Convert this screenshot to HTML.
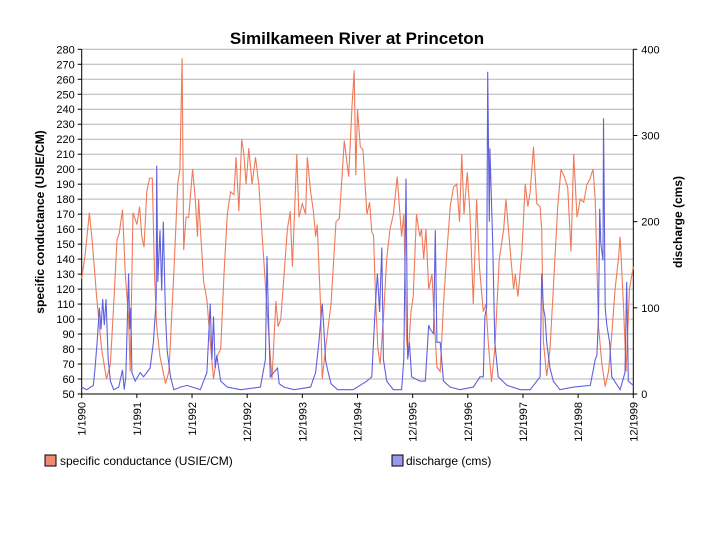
<!DOCTYPE html>
<html><head><meta charset="utf-8"><style>
body{margin:0;background:#fff;}
svg{display:block;font-family:"Liberation Sans",Arial,sans-serif;}
</style></head><body>
<svg id="chart" width="720" height="540">
<text x="357" y="44" text-anchor="middle" font-size="17" font-weight="bold">Similkameen River at Princeton</text>
<text transform="translate(44,222) rotate(-90)" text-anchor="middle" font-size="12" font-weight="bold">specific conductance (USIE/CM)</text>
<text transform="translate(682,222) rotate(-90)" text-anchor="middle" font-size="12" font-weight="bold">discharge (cms)</text>
<g id="grid"></g><g id="axes"></g><g id="series"></g>
<rect x="45" y="455" width="11" height="11" fill="#f08a70" stroke="#000"/>
<text x="60" y="465" font-size="12">specific conductance (USIE/CM)</text>
<rect x="392" y="455" width="11" height="11" fill="#9999ee" stroke="#000"/>
<text x="406" y="465" font-size="12">discharge (cms)</text>
</svg>
<script>
const xTickLabels=["1/1990","1/1991","1/1992","12/1992","12/1993","12/1994","12/1995","12/1996","12/1997","12/1998","12/1999"];
const leftTicks=[50,60,70,80,90,100,110,120,130,140,150,160,170,180,190,200,210,220,230,240,250,260,270,280];
const rightTicks=[0,100,200,300,400];
const condT=[0,.06,.14,.19,.27,.36,.45,.52,.58,.64,.68,.74,.79,.85,.88,.93,1.00,1.05,1.09,1.13,1.18,1.23,1.28,1.32,1.36,1.42,1.52,1.58,1.67,1.74,1.78,1.82,1.85,1.89,1.94,2.01,2.06,2.10,2.12,2.21,2.27,2.33,2.39,2.45,2.52,2.58,2.64,2.70,2.76,2.80,2.85,2.90,2.94,2.98,3.03,3.09,3.15,3.21,3.30,3.39,3.45,3.52,3.56,3.61,3.67,3.73,3.78,3.82,3.90,3.94,4.00,4.06,4.09,4.15,4.20,4.24,4.27,4.33,4.36,4.42,4.52,4.61,4.67,4.76,4.84,4.90,4.94,4.97,5.00,5.05,5.10,5.17,5.22,5.26,5.29,5.33,5.37,5.41,5.47,5.53,5.59,5.65,5.72,5.80,5.84,5.89,5.92,5.97,6.01,6.07,6.13,6.16,6.20,6.24,6.29,6.35,6.39,6.44,6.50,6.56,6.62,6.68,6.74,6.80,6.85,6.89,6.93,6.99,7.04,7.10,7.16,7.21,7.28,7.33,7.37,7.43,7.49,7.57,7.65,7.69,7.77,7.83,7.86,7.91,7.98,8.04,8.09,8.13,8.19,8.25,8.31,8.34,8.37,8.43,8.49,8.55,8.63,8.69,8.75,8.81,8.87,8.92,8.98,9.04,9.10,9.16,9.21,9.27,9.31,9.37,9.43,9.49,9.55,9.61,9.67,9.73,9.76,9.82,9.87,9.93,10.0];
const condV=[127,142,171,152,115,80,60,70,110,153,157,173,130,100,65,171,163,175,155,148,185,194,194,130,95,75,57,65,130,190,200,274,146,168,168,200,180,155,180,125,113,85,60,75,80,130,170,185,183,208,172,220,210,190,214,190,208,190,140,90,60,112,95,100,130,160,172,135,210,168,177,170,208,185,172,155,163,110,60,80,110,165,167,219,195,242,266,196,240,215,213,170,178,158,156,112,80,70,100,140,160,170,195,155,170,86,75,105,115,170,155,160,140,160,120,130,100,68,65,110,145,175,188,190,165,210,170,198,170,110,180,135,105,110,85,58,80,140,160,180,145,120,130,115,145,190,175,185,215,177,175,160,85,62,80,120,175,200,195,188,145,210,168,180,178,190,193,200,180,95,70,55,65,90,120,140,155,110,65,120,135];
const disT=[0,.09,.21,.24,.28,.32,.35,.38,.41,.44,.48,.52,.58,.67,.74,.77,.80,.85,.87,.89,.91,.97,1.06,1.12,1.18,1.24,1.30,1.35,1.36,1.38,1.42,1.45,1.48,1.52,1.55,1.61,1.67,1.79,1.91,2.15,2.21,2.27,2.30,2.33,2.36,2.39,2.42,2.45,2.52,2.64,2.88,3.24,3.33,3.36,3.39,3.42,3.48,3.55,3.58,3.67,3.85,4.15,4.24,4.30,4.36,4.39,4.42,4.45,4.52,4.64,4.92,5.17,5.26,5.32,5.36,5.40,5.44,5.47,5.53,5.65,5.80,5.84,5.88,5.91,5.94,5.98,6.13,6.23,6.29,6.32,6.38,6.41,6.44,6.50,6.56,6.68,6.86,7.10,7.22,7.28,7.31,7.34,7.36,7.39,7.40,7.45,7.49,7.55,7.71,7.95,8.13,8.31,8.34,8.37,8.40,8.43,8.49,8.55,8.67,8.92,9.22,9.31,9.34,9.37,9.39,9.41,9.45,9.46,9.49,9.52,9.57,9.61,9.76,9.85,9.88,9.91,10.0];
const disV=[8,5,10,28,60,100,75,110,80,110,40,15,5,8,28,5,20,140,75,100,25,15,25,20,25,30,60,110,265,130,190,120,200,90,50,20,5,8,10,5,15,25,65,105,40,90,30,45,15,8,5,8,40,160,80,20,25,30,12,8,5,8,25,60,105,75,40,30,12,5,5,15,20,100,140,95,170,40,15,5,5,40,250,40,60,20,15,15,80,75,70,190,60,60,15,8,5,8,20,20,90,100,374,200,285,180,60,20,10,5,5,20,140,100,90,60,30,15,5,8,10,40,45,90,215,175,155,320,100,80,60,20,5,25,130,15,10];
const X0=81.7,X1=633.3,Y0=394,Y1=49.3;
const xs=t=>X0+(X1-X0)*t/10;
const yL=v=>Y0-(v-50)/230*(Y0-Y1);
const yR=v=>Y0-v/400*(Y0-Y1);
const NS="http://www.w3.org/2000/svg";
function mk(tag,attrs,parent,txt){const e=document.createElementNS(NS,tag);for(const k in attrs)e.setAttribute(k,attrs[k]);if(txt!==undefined)e.textContent=txt;parent.appendChild(e);return e;}
const grid=document.getElementById('grid'),axes=document.getElementById('axes'),ser=document.getElementById('series');
leftTicks.forEach(v=>{
  const y=yL(v);
  if(v>50){const g=mk('line',{x1:X0,x2:X1,y1:y,y2:y,stroke:'#b4b4b4','stroke-width':1},grid);
  
  }
  mk('line',{x1:X0-4,x2:X0,y1:y,y2:y,stroke:'#000'},axes);
  const t=mk('text',{x:X0-7,y:y+4,'text-anchor':'end','font-size':11},axes,v);
  
  
});
rightTicks.forEach(v=>{
  const y=yR(v);
  mk('line',{x1:X1,x2:X1+4,y1:y,y2:y,stroke:'#000'},axes);
  const t=mk('text',{x:X1+8,y:y+4,'font-size':11},axes,v);
  
  
});
xTickLabels.forEach((l,i)=>{
  const x=xs(i);
  mk('line',{x1:x,x2:x,y1:Y0,y2:Y0+4,stroke:'#000'},axes);
  const t=mk('text',{transform:`translate(${x+4},${Y0+8}) rotate(-90)`,'text-anchor':'end','font-size':11},axes,l);
  
  
});
const ax=mk('path',{d:`M${X0},${Y1}V${Y0}H${X1}V${Y1}`,fill:'none',stroke:'#000'},axes);


const pc=mk('polyline',{points:condT.map((t,i)=>xs(t).toFixed(1)+','+yL(condV[i]).toFixed(1)).join(' '),fill:'none',stroke:'#ee7a5a','stroke-width':1.1},ser);


const pd=mk('polyline',{points:disT.map((t,i)=>xs(t).toFixed(1)+','+yR(disV[i]).toFixed(1)).join(' '),fill:'none',stroke:'#6060dd','stroke-width':1.1},ser);


</script>
</body></html>
